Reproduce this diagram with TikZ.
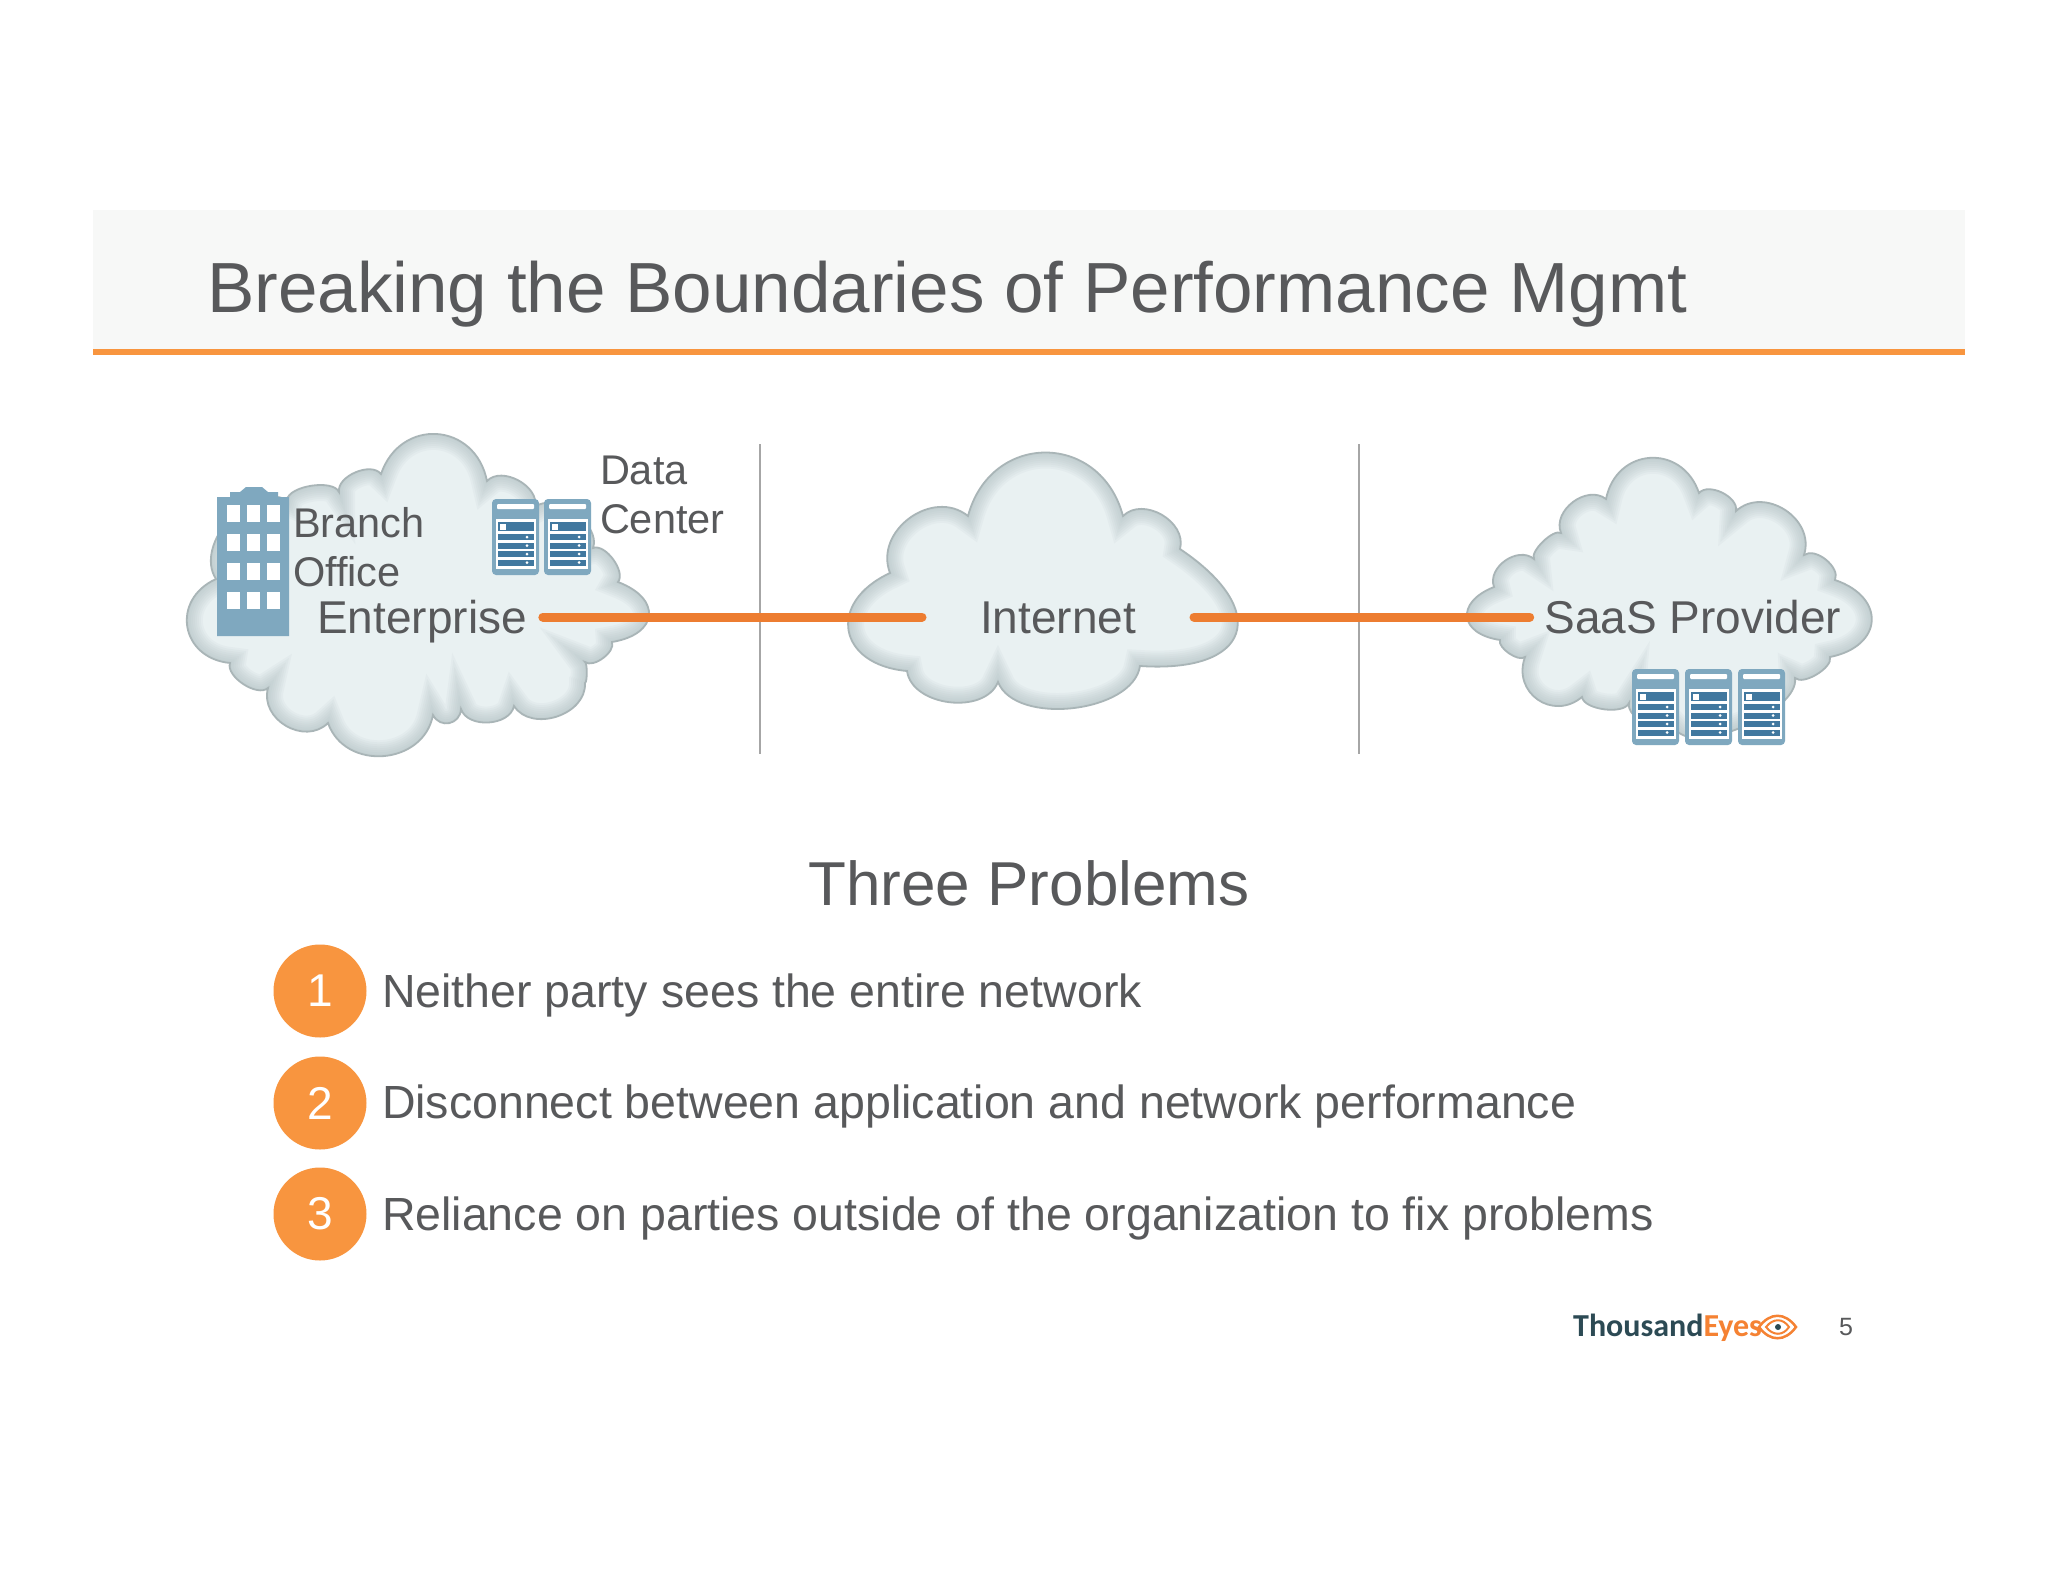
\documentclass[tikz,border=0pt]{standalone}
\usepackage{fontspec}
\usepackage{tikz}
\setmainfont{Liberation Sans}
\newfontfamily\logofont{Carlito}
\definecolor{textColor}{HTML}{58595B}
\definecolor{bandColor}{HTML}{F7F8F7}
\definecolor{ruleColor}{HTML}{F8953F}
\definecolor{wireColor}{HTML}{ED7D31}
\definecolor{barColor}{HTML}{A6A6A6}
\definecolor{cloudFill}{HTML}{E9F1F2}
\definecolor{cloudEdge}{HTML}{A9B5B7}
\definecolor{cloudGlow}{HTML}{A8B8BB}
\definecolor{rackColor}{HTML}{7FA8BF}
\definecolor{rowColor}{HTML}{41789F}
\definecolor{logoDark}{HTML}{2C4A54}
\definecolor{logoOrange}{HTML}{F58233}

\newcommand{\drawcloud}[1]{%
  \fill[cloudFill] #1;
  \begin{scope}
    \clip #1;
    \foreach \w in {4,8,...,32} \draw[cloudGlow,line width=\w pt,opacity=0.09] #1;
  \end{scope}
  \draw[cloudEdge,line width=1.8pt,line join=miter] #1;
}
\newcommand{\drawrack}[2]{%
  \begin{scope}[shift={(#1,#2)}]
    \fill[rackColor,rounded corners=4pt] (0,0) rectangle (47,76);
    \fill[white,rounded corners=1pt] (5,5) rectangle (42,10);
    \fill[white] (3.5,20) rectangle (44,69.5);
    \fill[rowColor] (6,23) rectangle (41.5,32);
    \fill[white] (8,25) rectangle (13.5,31);
    \foreach \y in {35,43.5,52,60.5} {
      \fill[rowColor] (6,\y) rectangle (41.5,\y+6);
      \fill[white] (35,\y+3) circle (1.5);
    }
  \end{scope}
}

\begin{document}
\begin{tikzpicture}[x=1pt,y=-1pt,
  lobe/.style={bend right=75,looseness=#1},
  cloudlabel/.style={text=textColor,anchor=base,inner sep=0pt,outer sep=0pt,text height=33pt,text depth=1pt,font=\fontsize{46}{49}\selectfont},
  sidelabel/.style={text=textColor,anchor=north west,align=left,inner sep=0pt,outer sep=0pt,font=\fontsize{41.5}{49}\selectfont},
  badge/.style={circle,fill=ruleColor,minimum size=93pt,inner sep=0pt,text=white,font=\fontsize{46}{49}\selectfont},
  itemtext/.style={text=textColor,anchor=base west,inner sep=0pt,outer sep=0pt,font=\fontsize{46.5}{49}\selectfont},
  wire/.style={wireColor,line width=9pt,line cap=round},
  divider/.style={barColor,line width=2pt}]
\path[use as bounding box,fill=white] (0,0) rectangle (2048,1582);

\fill[bandColor] (93,210) rectangle (1965,350);
\fill[ruleColor] (93,349) rectangle (1965,355);
\node[text=textColor,anchor=base west,inner sep=0pt,font=\fontsize{71}{80}\selectfont] (title) at (207,312) {Breaking the Boundaries of Performance Mgmt};

\drawcloud{(216,579) to[lobe=1.5] (230,663) to[lobe=0.8] (268,688) to[lobe=1.2] (328,723) to[lobe=1.25] (433,715) to[lobe=1.4] (461,709) to[lobe=1] (514,706) to[lobe=1.1] (585,683) to[lobe=0.3] (585,662) to[lobe=0.8] (612,642) to[lobe=2] (618,582) to[lobe=0.8] (593,548) to[lobe=0.9] (535,507) to[lobe=1] (487,481) to[lobe=1.45] (381,474) to[lobe=0.9] (339,492) to[lobe=0.7] (287,500) to[lobe=1] (216,579) -- cycle}
\drawcloud{(890,573) to[lobe=1.8] (907,671) to[lobe=1] (998,682) to[lobe=0.85] (1140,666) to[lobe=2.3] (1180,549) to[lobe=1.1] (1123,516) to[lobe=1.45] (968,516) to[lobe=1.2] (890,573) -- cycle}
\drawcloud{(1494,587) to[lobe=2] (1500,640) to[lobe=0.7] (1525,657) to[lobe=1.4] (1582,697) to[lobe=0.7] (1629,703) to[lobe=0.7] (1676,730) to[lobe=0.65] (1795,678) to[lobe=0.7] (1830,657) to[lobe=1.8] (1835,580) to[lobe=0.9] (1804,555) to[lobe=1.2] (1736,511) to[lobe=0.9] (1699,493) to[lobe=1.45] (1606,499) to[lobe=1.1] (1561,533) to[lobe=0.6] (1534,559) to[lobe=1.1] (1494,587) -- cycle}

\draw[divider] (760,444) -- (760,754);
\draw[divider] (1359,444) -- (1359,754);

% building
\fill[rackColor] (217,497) -- (230,497) -- (230,492) -- (240,492) -- (246,487) -- (262,487) -- (268,492) -- (278,492) -- (278,497) -- (289,497) -- (289,636) -- (217,636) -- cycle;
\foreach \y in {505,534,563,592}
  \foreach \x in {227,247,267}
    \fill[white] (\x,\y) rectangle (\x+13,\y+17);

\drawrack{492}{499}
\drawrack{544}{499}
\drawrack{1632}{669}
\drawrack{1685}{669}
\drawrack{1738}{669}

\node[cloudlabel] (enterprise) at (422,633) {Enterprise};
\node[cloudlabel] (internet) at (1058,633) {Internet};
\node[cloudlabel] (saas) at (1693,633) {SaaS Provider};
\node[sidelabel] (branch) at (293,507) {Branch\\Office};
\node[sidelabel] (datacenter) at (600,456) {Data\\Center};

\draw[wire,shorten <=16pt,shorten >=58pt] (enterprise.east) -- (internet.west);
\draw[wire,shorten <=58pt,shorten >=15pt] (internet.east) -- (saas.west);

\node[text=textColor,anchor=base,inner sep=0pt,font=\fontsize{62}{70}\selectfont] (problems) at (1029,905) {Three Problems};

\node[badge] (one) at (320,991) {1};
\node[badge] (two) at (320,1103) {2};
\node[badge] (three) at (320,1214) {3};
\node[itemtext] (itemone) at (382,1007) {Neither party sees the entire network};
\node[itemtext] (itemtwo) at (382,1118) {Disconnect between application and network performance};
\node[itemtext] (itemthree) at (382,1230) {Reliance on parties outside of the organization to fix problems};

\node[anchor=base west,inner sep=0pt,font=\logofont\bfseries\fontsize{32}{36}\selectfont] (logo) at (1573,1336) {\textcolor{logoDark}{Thousand}\textcolor{logoOrange}{Eyes}};
\draw[logoOrange,line width=2.5pt] (1759,1327) .. controls (1770,1312) and (1785,1312) .. (1796,1327) .. controls (1785,1342) and (1770,1342) .. (1759,1327) -- cycle;
\draw[logoOrange,line width=2pt] (1766,1327) .. controls (1773,1318) and (1783,1318) .. (1789,1327) .. controls (1783,1336) and (1773,1336) .. (1766,1327) -- cycle;
\fill[logoDark] (1778,1327) circle (3);
\node[text=textColor,anchor=base,inner sep=0pt,font=\fontsize{25}{30}\selectfont] (pageno) at (1846,1335) {5};
\end{tikzpicture}
\end{document}
